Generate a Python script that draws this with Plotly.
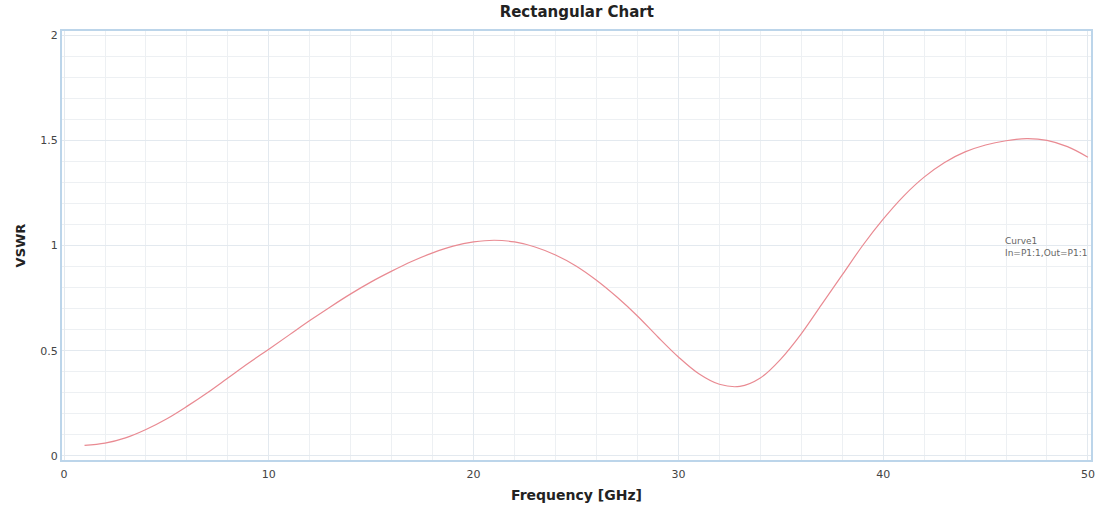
import plotly.graph_objects as go

freq_ghz = list(range(1, 51))
vswr = [0.05, 0.06, 0.085, 0.125, 0.175, 0.235, 0.30, 0.37, 0.44, 0.507,
        0.575, 0.643, 0.708, 0.77, 0.827, 0.878, 0.925, 0.965, 0.997, 1.017,
        1.025, 1.017, 0.993, 0.955, 0.903, 0.835, 0.755, 0.665, 0.565, 0.47,
        0.39, 0.34, 0.33, 0.37, 0.46, 0.58, 0.72, 0.86, 1.00, 1.125,
        1.235, 1.325, 1.395, 1.445, 1.478, 1.498, 1.508, 1.50, 1.47, 1.42]
x_ticks = [0, 10, 20, 30, 40, 50]
y_ticks = [0, 0.5, 1, 1.5, 2]
y_tick_labels = ["0", "0.5", "1", "1.5", "2"]

FONT = "DejaVu Sans, Verdana, sans-serif"

fig = go.Figure()
fig.add_trace(go.Scatter(x=freq_ghz, y=vswr, mode="lines",
                         line=dict(color="#e98a92", width=1.2, shape="spline", smoothing=1.0),
                         showlegend=False))

fig.add_annotation(x=45.85, y=0.995, xref="x", yref="y",
                   text="Curve1<br>In=P1:1,Out=P1:1", showarrow=False,
                   align="left", xanchor="left", yanchor="middle",
                   font=dict(family=FONT, size=9, color="#666666"))

axis_common = dict(showline=True, mirror=True, linecolor="#bcd5ea", linewidth=2,
                   ticks="", zeroline=False, automargin=False,
                   gridcolor="#e3e9ef", gridwidth=1,
                   tickfont=dict(family=FONT, size=11, color="#444444"))

fig.update_layout(
    width=1102, height=509,
    margin=dict(l=62, r=11, t=31, b=49),
    paper_bgcolor="white", plot_bgcolor="white",
    title=dict(text="<b>Rectangular Chart</b>", x=0.5234, xanchor="center",
               y=0.976, yanchor="middle",
               font=dict(family=FONT, size=15, color="#222222")),
    xaxis=dict(range=[-0.1, 50.15], tickvals=x_ticks, ticktext=[str(v) for v in x_ticks],
               ticklabelstandoff=3,
               minor=dict(dtick=2, tick0=0, showgrid=True, gridcolor="#edf0f3", ticks=""),
               title=dict(text="<b>Frequency [GHz]</b>", standoff=10,
                          font=dict(family=FONT, size=14, color="#222222")),
               **axis_common),
    yaxis=dict(range=[-0.02, 2.02], tickvals=y_ticks, ticktext=y_tick_labels,
               minor=dict(dtick=0.1, tick0=0, showgrid=True, gridcolor="#edf0f3", ticks=""),
               title=dict(text="<b>VSWR</b>", standoff=12,
                          font=dict(family=FONT, size=13, color="#222222")),
               **axis_common),
)

fig.write_html("out.html", config={"displayModeBar": False},
               post_script="document.body.style.margin='0';document.body.style.overflow='hidden';")
